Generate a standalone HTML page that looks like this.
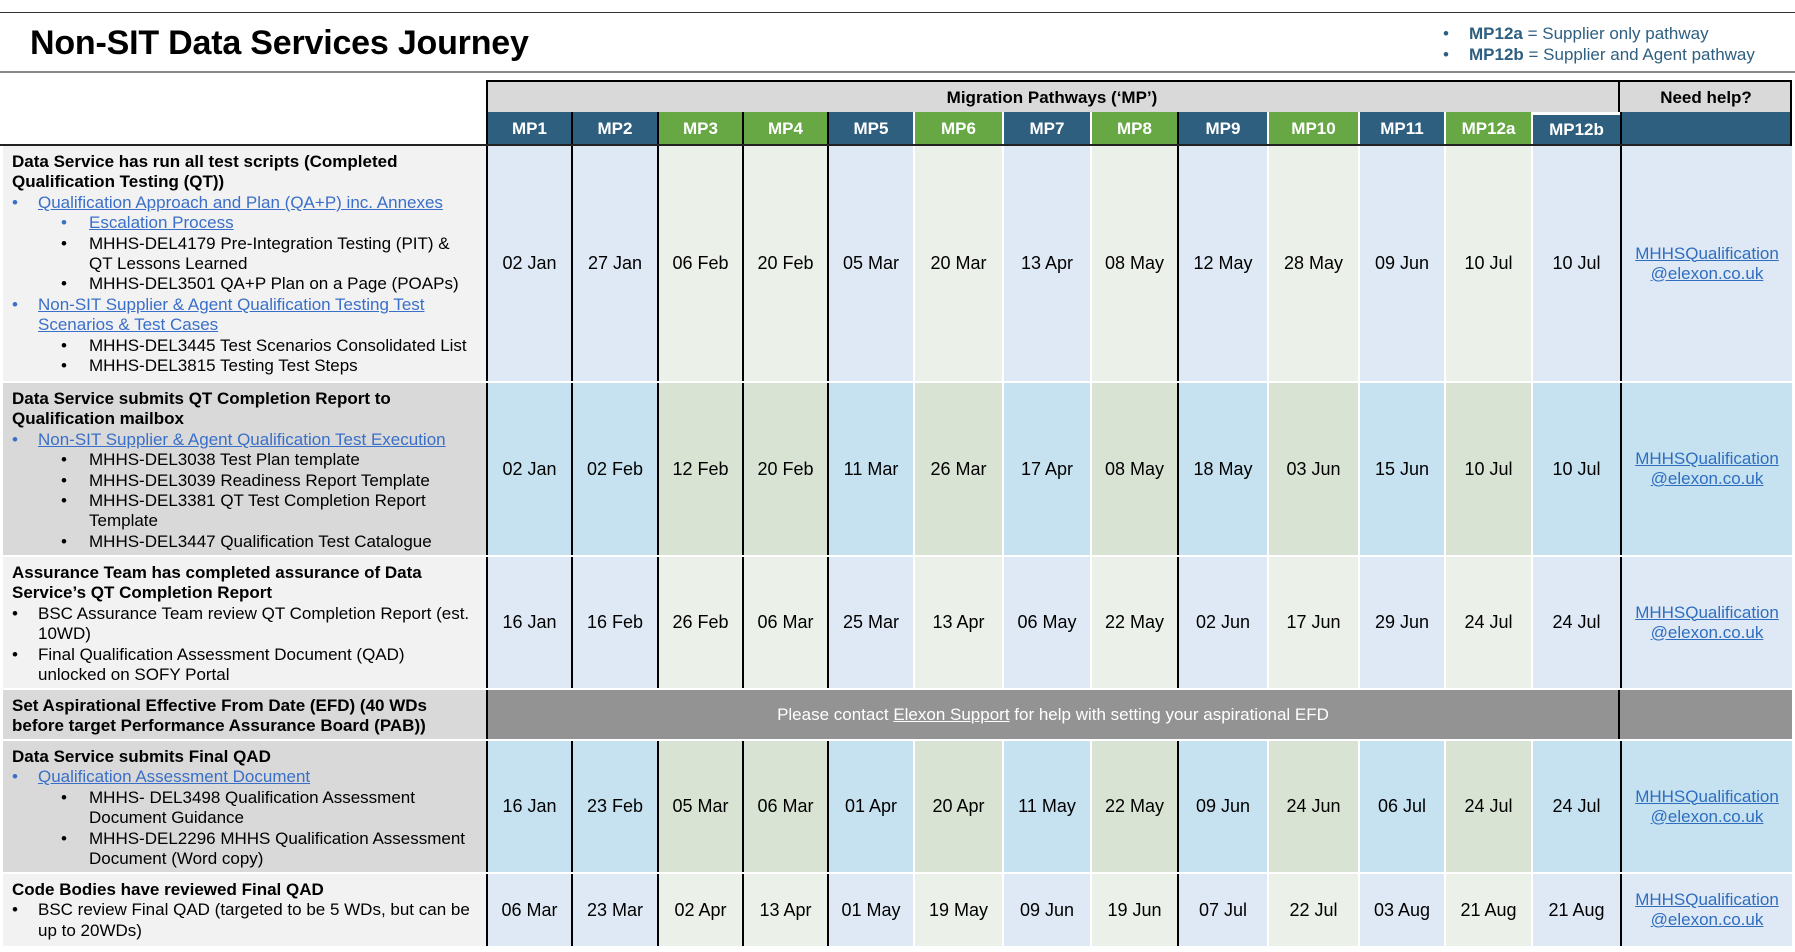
<!DOCTYPE html>
<html><head><meta charset="utf-8">
<style>
*{margin:0;padding:0;box-sizing:border-box}
body{width:1795px;height:952px;background:#fff;font-family:"Liberation Sans",Arial,sans-serif;position:relative;overflow:hidden;color:#000}
.abs{position:absolute}
.title{left:30px;top:24px;font-size:34px;font-weight:bold;letter-spacing:-0.2px}
.leg{left:1443px;font-size:17px;color:#2e5f80;white-space:nowrap}
.leg b{font-weight:bold}
.row{position:absolute;left:486px;display:flex}
.row div{height:100%;display:flex;align-items:center;justify-content:center;font-size:18px;border-left:2px solid #fff;text-align:center}
.row div.k{border-left:2px solid #000}
.hdr div{color:#fff;font-weight:bold;font-size:17px;background:#2f5f7f}
.hdr div.g{background:#67a844}
.L .b{background:#dfe9f5}.L .g{background:#ebf0e8}
.M .b{background:#c6e2f1}.M .g{background:#d9e3d3}
.L .h{background:#dfe9f5}.M .h{background:#c6e2f1}
.h a{color:#2f6ebf;text-decoration:underline;font-size:17px;line-height:20px}
.left{position:absolute;left:3px;width:483px;padding:6px 0 0 9px;font-size:17px;line-height:20.4px}
.left p{position:relative;white-space:nowrap}
.left .t{font-weight:bold}
.left .l1{padding-left:26px}
.left .l2{padding-left:77px}
.left .l1::before{content:"•";position:absolute;left:0}
.left .l2::before{content:"•";position:absolute;left:49px}
.left .lk{color:#3a6fc9}
.left .lk span{text-decoration:underline}
.left .c{padding-left:26px}
.left .c2{padding-left:77px}
.gry1{background:#f2f2f2}.gry2{background:#d9d9d9}
</style></head><body>
<div class="abs" style="left:0;top:12px;width:1795px;height:1px;background:#333"></div>
<div class="abs title">Non-SIT Data Services Journey</div>
<div class="abs leg" style="top:24px"><span style="display:inline-block;width:26px">•</span><b>MP12a</b> = Supplier only pathway</div>
<div class="abs leg" style="top:45px"><span style="display:inline-block;width:26px">•</span><b>MP12b</b> = Supplier and Agent pathway</div>
<div class="abs" style="left:0;top:71px;width:1795px;height:2px;background:#8a8a8a"></div>

<div class="abs" style="left:486px;top:80px;width:1306px;height:32px;background:#d9d9d9;border:2px solid #000;border-bottom:none"></div>
<div class="abs" style="left:1618px;top:80px;width:2px;height:33px;background:#000"></div>
<div class="abs" style="left:486px;top:84px;width:1132px;text-align:center;font-size:17px;font-weight:bold;line-height:28px">Migration Pathways (‘MP’)</div>
<div class="abs" style="left:1620px;top:84px;width:172px;text-align:center;font-size:17px;font-weight:bold;line-height:28px">Need help?</div>
<div class="row hdr" style="top:112px;height:33px">
<div class="b k" style="width:85px">MP1</div><div class="b k" style="width:86px">MP2</div><div class="g k" style="width:85px">MP3</div><div class="g k" style="width:85px">MP4</div><div class="b k" style="width:86px">MP5</div><div class="g" style="width:89px">MP6</div><div class="b" style="width:88px">MP7</div><div class="g" style="width:87px">MP8</div><div class="b k" style="width:90px">MP9</div><div class="g" style="width:91px">MP10</div><div class="b" style="width:86px">MP11</div><div class="g" style="width:87px">MP12a</div><div class="b" style="width:89px;border-top:3px solid #fff">MP12b</div><div class="b k" style="width:172px"></div>
</div>
<div class="abs" style="left:0;top:144px;width:1792px;height:2px;background:#222"></div>
<div class="abs" style="left:1790px;top:80px;width:2px;height:66px;background:#000"></div>

<div class="left gry1" style="top:146px;height:235px">
<p class="t">Data Service has run all test scripts (Completed</p><p class="t">Qualification Testing (QT))</p>
<p class="l1 lk"><span>Qualification Approach and Plan (QA+P) inc. Annexes</span></p>
<p class="l2 lk"><span>Escalation Process</span></p>
<p class="l2">MHHS-DEL4179 Pre-Integration Testing (PIT) &amp;</p><p class="c2">QT Lessons Learned</p>
<p class="l2">MHHS-DEL3501 QA+P Plan on a Page (POAPs)</p>
<p class="l1 lk"><span>Non-SIT Supplier &amp; Agent Qualification Testing Test</span></p><p class="c lk"><span>Scenarios &amp; Test Cases</span></p>
<p class="l2">MHHS-DEL3445 Test Scenarios Consolidated List</p>
<p class="l2">MHHS-DEL3815 Testing Test Steps</p>
</div>
<div class="row L" style="top:146px;height:235px">
<div class="b k" style="width:85px">02 Jan</div><div class="b k" style="width:86px">27 Jan</div><div class="g k" style="width:85px">06 Feb</div><div class="g k" style="width:85px">20 Feb</div><div class="b k" style="width:86px">05 Mar</div><div class="g" style="width:89px">20 Mar</div><div class="b" style="width:88px">13 Apr</div><div class="g" style="width:87px">08 May</div><div class="b k" style="width:90px">12 May</div><div class="g" style="width:91px">28 May</div><div class="b" style="width:86px">09 Jun</div><div class="g" style="width:87px">10 Jul</div><div class="b" style="width:89px">10 Jul</div><div class="h k" style="width:172px"><a>MHHSQualification<br>@elexon.co.uk</a></div>
</div>

<div class="left gry2" style="top:383px;height:172px">
<p class="t">Data Service submits QT Completion Report to</p><p class="t">Qualification mailbox</p>
<p class="l1 lk"><span>Non-SIT Supplier &amp; Agent Qualification Test Execution</span></p>
<p class="l2">MHHS-DEL3038 Test Plan template</p>
<p class="l2">MHHS-DEL3039 Readiness Report Template</p>
<p class="l2">MHHS-DEL3381 QT Test Completion Report</p><p class="c2">Template</p>
<p class="l2">MHHS-DEL3447 Qualification Test Catalogue</p>
</div>
<div class="row M" style="top:383px;height:172px">
<div class="b k" style="width:85px">02 Jan</div><div class="b k" style="width:86px">02 Feb</div><div class="g k" style="width:85px">12 Feb</div><div class="g k" style="width:85px">20 Feb</div><div class="b k" style="width:86px">11 Mar</div><div class="g" style="width:89px">26 Mar</div><div class="b" style="width:88px">17 Apr</div><div class="g" style="width:87px">08 May</div><div class="b k" style="width:90px">18 May</div><div class="g" style="width:91px">03 Jun</div><div class="b" style="width:86px">15 Jun</div><div class="g" style="width:87px">10 Jul</div><div class="b" style="width:89px">10 Jul</div><div class="h k" style="width:172px"><a>MHHSQualification<br>@elexon.co.uk</a></div>
</div>

<div class="left gry1" style="top:557px;height:131px">
<p class="t">Assurance Team has completed assurance of Data</p><p class="t">Service’s QT Completion Report</p>
<p class="l1">BSC Assurance Team review QT Completion Report (est.</p><p class="c">10WD)</p>
<p class="l1">Final Qualification Assessment Document (QAD)</p><p class="c">unlocked on SOFY Portal</p>
</div>
<div class="row L" style="top:557px;height:131px">
<div class="b k" style="width:85px">16 Jan</div><div class="b k" style="width:86px">16 Feb</div><div class="g k" style="width:85px">26 Feb</div><div class="g k" style="width:85px">06 Mar</div><div class="b k" style="width:86px">25 Mar</div><div class="g" style="width:89px">13 Apr</div><div class="b" style="width:88px">06 May</div><div class="g" style="width:87px">22 May</div><div class="b k" style="width:90px">02 Jun</div><div class="g" style="width:91px">17 Jun</div><div class="b" style="width:86px">29 Jun</div><div class="g" style="width:87px">24 Jul</div><div class="b" style="width:89px">24 Jul</div><div class="h k" style="width:172px"><a>MHHSQualification<br>@elexon.co.uk</a></div>
</div>

<div class="left gry2" style="top:690px;height:49px">
<p class="t">Set Aspirational Effective From Date (EFD) (40 WDs</p><p class="t">before target Performance Assurance Board (PAB))</p>
</div>
<div class="abs" style="left:486px;top:690px;width:1306px;height:49px;background:#939393;border-left:2px solid #000"></div>
<div class="abs" style="left:1618px;top:690px;width:2px;height:49px;background:#000"></div>
<div class="abs" style="left:488px;top:690px;width:1130px;height:49px;line-height:49px;text-align:center;color:#fff;font-size:17px">Please contact <u>Elexon Support</u> for help with setting your aspirational EFD</div>

<div class="left gry2" style="top:741px;height:131px">
<p class="t">Data Service submits Final QAD</p>
<p class="l1 lk"><span>Qualification Assessment Document</span></p>
<p class="l2">MHHS- DEL3498 Qualification Assessment</p><p class="c2">Document Guidance</p>
<p class="l2">MHHS-DEL2296 MHHS Qualification Assessment</p><p class="c2">Document (Word copy)</p>
</div>
<div class="row M" style="top:741px;height:131px">
<div class="b k" style="width:85px">16 Jan</div><div class="b k" style="width:86px">23 Feb</div><div class="g k" style="width:85px">05 Mar</div><div class="g k" style="width:85px">06 Mar</div><div class="b k" style="width:86px">01 Apr</div><div class="g" style="width:89px">20 Apr</div><div class="b" style="width:88px">11 May</div><div class="g" style="width:87px">22 May</div><div class="b k" style="width:90px">09 Jun</div><div class="g" style="width:91px">24 Jun</div><div class="b" style="width:86px">06 Jul</div><div class="g" style="width:87px">24 Jul</div><div class="b" style="width:89px">24 Jul</div><div class="h k" style="width:172px"><a>MHHSQualification<br>@elexon.co.uk</a></div>
</div>

<div class="left gry1" style="top:874px;height:72px">
<p class="t">Code Bodies have reviewed Final QAD</p>
<p class="l1">BSC review Final QAD (targeted to be 5 WDs, but can be</p><p class="c">up to 20WDs)</p>
</div>
<div class="row L" style="top:874px;height:72px">
<div class="b k" style="width:85px">06 Mar</div><div class="b k" style="width:86px">23 Mar</div><div class="g k" style="width:85px">02 Apr</div><div class="g k" style="width:85px">13 Apr</div><div class="b k" style="width:86px">01 May</div><div class="g" style="width:89px">19 May</div><div class="b" style="width:88px">09 Jun</div><div class="g" style="width:87px">19 Jun</div><div class="b k" style="width:90px">07 Jul</div><div class="g" style="width:91px">22 Jul</div><div class="b" style="width:86px">03 Aug</div><div class="g" style="width:87px">21 Aug</div><div class="b" style="width:89px">21 Aug</div><div class="h k" style="width:172px"><a>MHHSQualification<br>@elexon.co.uk</a></div>
</div>
</body></html>
